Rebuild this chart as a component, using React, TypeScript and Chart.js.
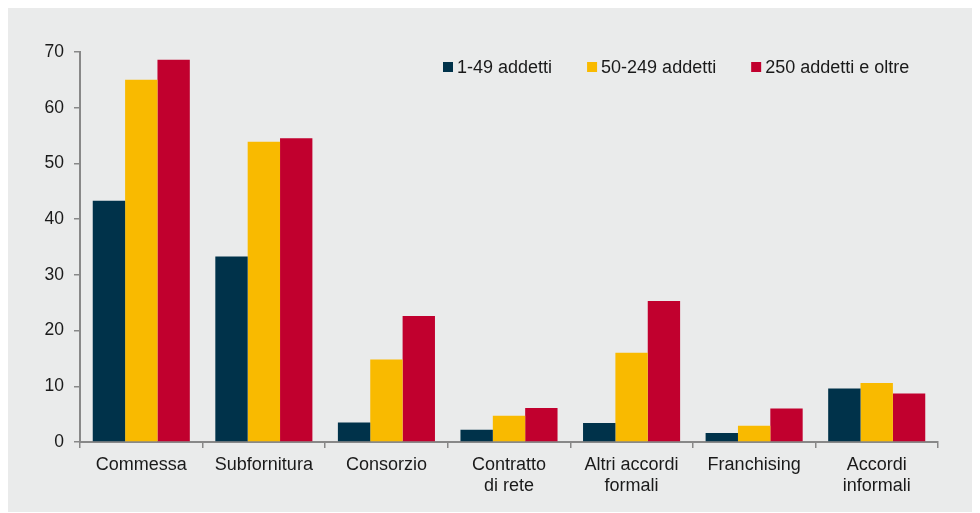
import React, { useEffect, useRef } from "react";
import { Chart, registerables } from "chart.js";

Chart.register(...registerables);

const categories: (string | string[])[] = [
  "Commessa",
  "Subfornitura",
  "Consorzio",
  ["Contratto", "di rete"],
  ["Altri accordi", "formali"],
  "Franchising",
  ["Accordi", "informali"],
];

const seriesNames = ["1-49 addetti", "50-249 addetti", "250 addetti e oltre"];
const small = [43.3, 33.3, 3.5, 2.2, 3.4, 1.6, 9.6];
const medium = [65.0, 53.9, 14.8, 4.7, 16.0, 2.9, 10.6];
const large = [68.6, 54.5, 22.6, 6.1, 25.3, 6.0, 8.7];
const colors = ["#00324A", "#F9BA00", "#C1002E"];
const yTicks = [0, 10, 20, 30, 40, 50, 60, 70];

const FONT = "'Liberation Sans', Arial, sans-serif";
const AXIS = "#888888";

const legendPlugin = {
  id: "customLegend",
  afterDraw(chart: any) {
    const { ctx, chartArea } = chart;
    ctx.save();
    ctx.font = `18px ${FONT}`;
    ctx.textBaseline = "middle";
    let x = chartArea.left + 363;
    const y = 59;
    chart.data.datasets.forEach((ds: any) => {
      ctx.fillStyle = ds.backgroundColor;
      ctx.fillRect(x, y - 5, 10, 10);
      x += 14;
      ctx.fillStyle = "#1a1a1a";
      ctx.fillText(ds.label, x, y + 1);
      x += ctx.measureText(ds.label).width + 35;
    });
    ctx.restore();
  },
};

export default function App() {
  const ref = useRef<HTMLCanvasElement | null>(null);
  useEffect(() => {
    if (!ref.current) return;
    const data = [small, medium, large];
    const chart = new Chart(ref.current, {
      type: "bar",
      data: {
        labels: categories,
        datasets: seriesNames.map((n, i) => ({
          label: n,
          data: data[i],
          backgroundColor: colors[i],
          borderWidth: 0,
          barPercentage: 1,
          categoryPercentage: 0.792,
        })),
      },
      options: {
        responsive: false,
        animation: false,
        layout: { padding: { left: 0, top: 44, right: 42, bottom: 0 } },
        plugins: { legend: { display: false }, tooltip: { enabled: false } },
        scales: {
          x: {
            afterFit: (s: any) => { s.height = 70; },
            border: { color: AXIS, width: 2 },
            grid: { drawOnChartArea: false, tickLength: 6, color: AXIS, lineWidth: 1.5, offset: true },
            ticks: { color: "#1a1a1a", font: { family: FONT, size: 18 }, padding: 6, maxRotation: 0, autoSkip: false },
          },
          y: {
            min: 0,
            max: 70,
            afterFit: (s: any) => { s.width = 72; },
            afterBuildTicks: (s: any) => { s.ticks = yTicks.map((v) => ({ value: v })); },
            border: { color: AXIS, width: 2 },
            grid: { drawOnChartArea: false, tickLength: 6, color: AXIS, lineWidth: 1.5 },
            ticks: { color: "#1a1a1a", font: { family: FONT, size: 17.5 }, padding: 10 },
          },
        },
      },
      plugins: [legendPlugin],
    });
    return () => chart.destroy();
  }, []);
  return (
    <div style={{ width: 972, height: 504, background: "#EAEBEB" }}>
      <canvas ref={ref} width={972} height={504} style={{ display: "block" }} />
    </div>
  );
}
